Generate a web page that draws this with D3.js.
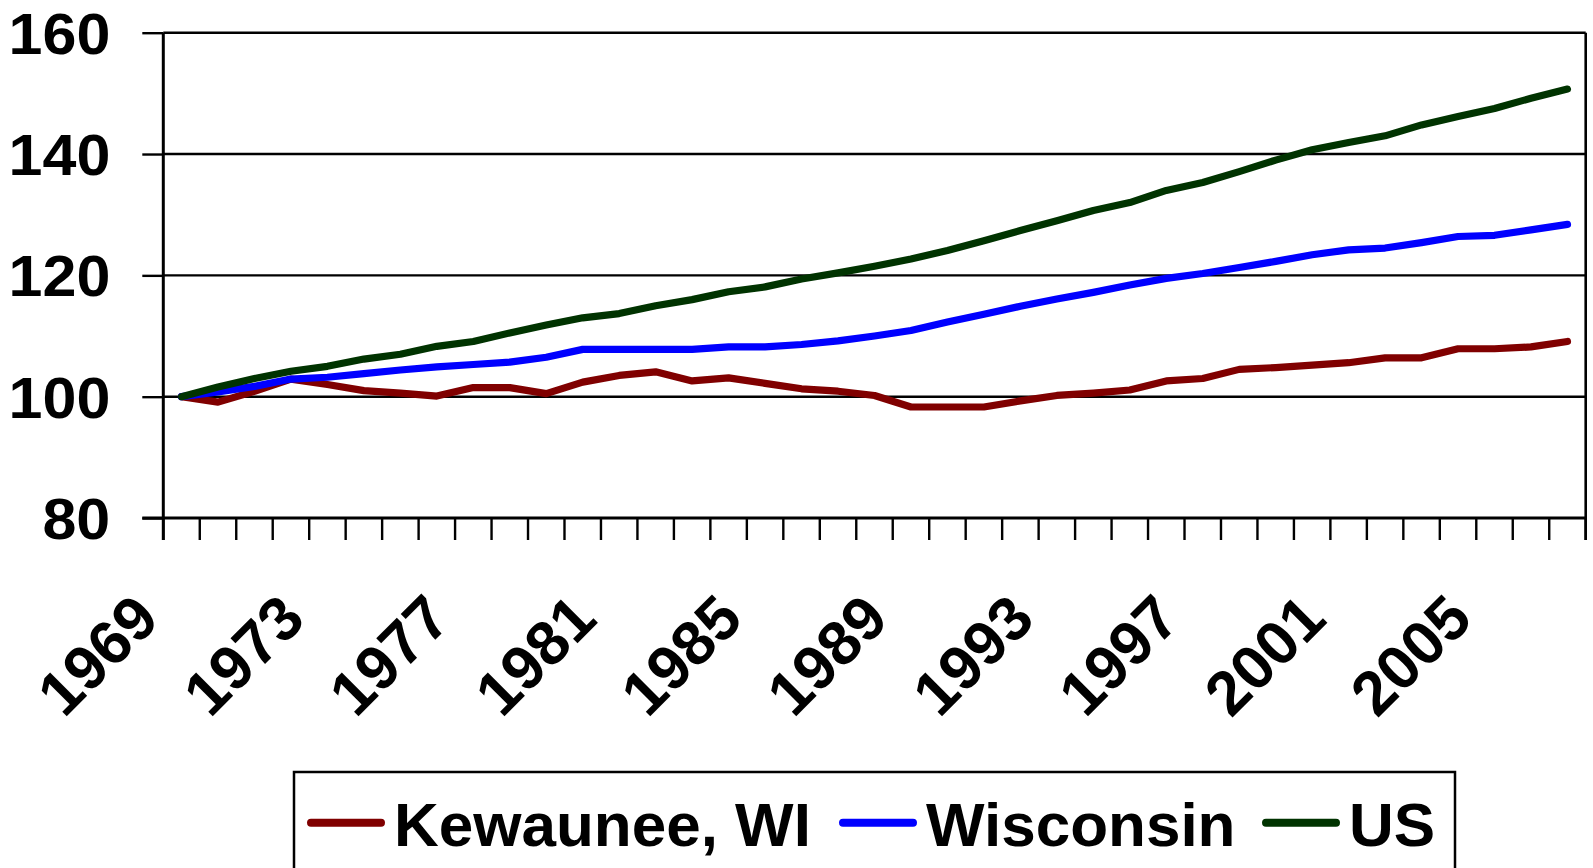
<!DOCTYPE html>
<html>
<head>
<meta charset="utf-8">
<script src="https://cdn.jsdelivr.net/npm/d3@7"></script>
<style>
  html, body { margin: 0; padding: 0; background: #ffffff; }
  svg { display: block; }
  text { font-family: "Liberation Sans", Arial, sans-serif; font-weight: bold; fill: #000; }
</style>
</head>
<body>
<svg id="chart" width="1593" height="868"></svg>
<script>
// ---------- DATA ----------
const years = d3.range(1969, 2008);
const yearLabels = [1969, 1973, 1977, 1981, 1985, 1989, 1993, 1997, 2001, 2005];
const yTicks = [80, 100, 120, 140, 160];
const seriesNames = ["Kewaunee, WI", "Wisconsin", "US"];
const seriesColors = ["#800000", "#0000ff", "#003300"];

const kewaunee = [100.0, 99.1, 100.9, 102.9, 102.0, 101.0, 100.6, 100.1, 101.5, 101.5,
  100.5, 102.4, 103.5, 104.1, 102.6, 103.1, 102.2, 101.3, 100.9, 100.2,
  98.3, 98.3, 98.3, 99.3, 100.2, 100.6, 101.1, 102.6, 103.0, 104.5,
  104.8, 105.2, 105.6, 106.4, 106.4, 107.9, 107.9, 108.2, 109.1];

const wisconsin = [100.0, 100.8, 101.7, 102.9, 103.2, 103.8, 104.4, 104.9, 105.3, 105.7,
  106.5, 107.8, 107.8, 107.8, 107.8, 108.2, 108.2, 108.6, 109.2, 110.0,
  110.9, 112.3, 113.6, 114.9, 116.1, 117.2, 118.4, 119.5, 120.3, 121.3,
  122.3, 123.4, 124.2, 124.5, 125.4, 126.4, 126.6, 127.5, 128.4];

const us = [100.0, 101.6, 103.0, 104.2, 105.0, 106.2, 107.0, 108.3, 109.1, 110.5,
  111.8, 113.0, 113.7, 115.0, 116.0, 117.3, 118.1, 119.4, 120.4, 121.5,
  122.7, 124.1, 125.7, 127.4, 129.0, 130.7, 132.0, 134.0, 135.3, 137.1,
  139.0, 140.7, 141.9, 143.0, 144.8, 146.2, 147.5, 149.2, 150.7];

const seriesValues = [kewaunee, wisconsin, us];

// ---------- LAYOUT ----------
const plot = { left: 163.3, right: 1585.7, top: 32.7, bottom: 518 };
const svg = d3.select("#chart");

const x = d3.scaleBand().domain(years).range([plot.left, plot.right]).padding(0);
const y = d3.scaleLinear().domain([80, 160]).range([plot.bottom, plot.top]);
const cx = d => x(d) + x.bandwidth() / 2;

// gridlines (100,120,140) and top border (160)
svg.append("g").selectAll("line")
  .data(yTicks.filter(v => v > 80))
  .join("line")
  .attr("x1", plot.left).attr("x2", plot.right)
  .attr("y1", d => y(d)).attr("y2", d => y(d))
  .attr("stroke", "#000").attr("stroke-width", 2.4);

// Y axis with tick stubs
const yAxis = d3.axisLeft(y).tickValues(yTicks).tickSize(21).tickPadding(32).tickFormat(d3.format("d"));
const gy = svg.append("g").attr("transform", `translate(${plot.left},0)`).call(yAxis);
gy.select(".domain").remove();
gy.selectAll(".tick line").attr("stroke", "#000").attr("stroke-width", 2.4);
gy.selectAll(".tick text")
  .attr("x", 0)
  .attr("dy", "0.36em")
  .attr("transform", "translate(-53,0) scale(1.07,1)")
  .attr("font-size", 57)
  .attr("font-family", "Liberation Sans, Arial, sans-serif")
  .attr("font-weight", "bold")
  .attr("fill", "#000");

const tickBottom = plot.bottom + 22;
// left axis and right border
svg.append("line").attr("x1", plot.left).attr("x2", plot.left)
  .attr("y1", plot.top).attr("y2", tickBottom).attr("stroke", "#000").attr("stroke-width", 3);
svg.append("line").attr("x1", plot.right).attr("x2", plot.right)
  .attr("y1", plot.top).attr("y2", tickBottom).attr("stroke", "#000").attr("stroke-width", 2.6);

// bottom axis line
svg.append("line").attr("x1", plot.left - 21).attr("x2", plot.right)
  .attr("y1", y(80)).attr("y2", y(80)).attr("stroke", "#000").attr("stroke-width", 2.8);

// category boundary ticks
const boundaries = years.map(d => x(d)).concat([plot.right]);
svg.append("g").selectAll("line").data(boundaries).join("line")
  .attr("x1", d => d).attr("x2", d => d)
  .attr("y1", plot.bottom).attr("y2", tickBottom)
  .attr("stroke", "#000").attr("stroke-width", 2.4);

// rotated year labels
svg.append("g").selectAll("text").data(yearLabels).join("text")
  .attr("transform", d => `translate(${cx(d) - 20},${plot.bottom + 103.5}) rotate(-45)`)
  .attr("text-anchor", "end")
  .attr("font-size", 62)
  .text(d => d);

// series lines
const line = d3.line().x((d, i) => cx(years[i])).y(d => y(d));
svg.append("g").selectAll("path").data(seriesValues).join("path")
  .attr("d", d => line(d))
  .attr("fill", "none")
  .attr("stroke", (d, i) => seriesColors[i])
  .attr("stroke-width", 7.2)
  .attr("stroke-linejoin", "round")
  .attr("stroke-linecap", "round");

// legend
const legend = { left: 294, right: 1455, top: 772, bottom: 900 };
svg.append("rect")
  .attr("x", legend.left).attr("y", legend.top)
  .attr("width", legend.right - legend.left).attr("height", legend.bottom - legend.top)
  .attr("fill", "#fff").attr("stroke", "#000").attr("stroke-width", 2.5);

const legendX = [311, 843, 1266];
const legendSwatchLen = 70;
const legendY = 822.7;
const li = svg.append("g").selectAll("g").data(seriesNames).join("g")
  .attr("transform", (d, i) => `translate(${legendX[i]},${legendY})`);
li.append("line")
  .attr("x1", 0).attr("x2", legendSwatchLen).attr("y1", 0).attr("y2", 0)
  .attr("stroke", (d, i) => seriesColors[i]).attr("stroke-width", 8)
  .attr("stroke-linecap", "round");
li.append("text")
  .attr("x", 83)
  .attr("y", 23.5)
  .attr("font-size", 62)
  .text(d => d);
</script>
</body>
</html>
